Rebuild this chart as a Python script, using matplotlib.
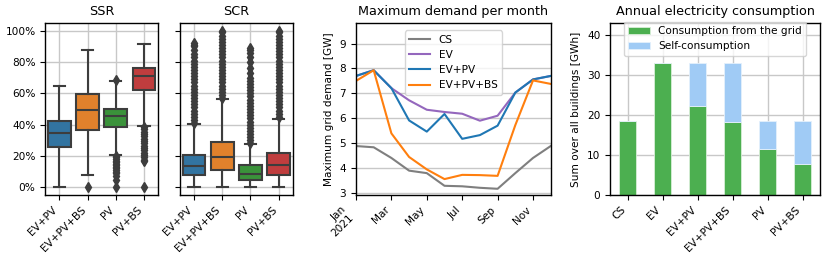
import matplotlib
matplotlib.use("Agg")
import matplotlib.pyplot as plt
from matplotlib.ticker import PercentFormatter

plt.rcParams['font.family'] = ['DejaVu Sans']
plt.rcParams['font.size'] = 7.6
plt.rcParams['axes.linewidth'] = 1.0
TITLE_SIZE = 9.2

# ---------------- data ----------------
box_cats = ["EV+PV", "EV+PV+BS", "PV", "PV+BS"]
box_colors = ["#3274a1", "#e1812c", "#3a923a", "#c03d3e"]

# SSR summary statistics (%): whislo, q1, med, q3, whishi
ssr_whislo = [0.0, 7.8, 20.5, 39.3]
ssr_q1 = [25.8, 36.4, 38.3, 62.0]
ssr_med = [34.9, 49.5, 45.3, 70.8]
ssr_q3 = [42.5, 59.9, 49.9, 76.3]
ssr_whishi = [64.7, 87.5, 67.6, 91.3]
ssr_fliers = [
    [],
    [0.0],
    [68.8, 20.0, 19.0, 18.0, 17.0, 16.0, 15.0, 14.0, 13.0, 12.0, 11.0, 10.0,
     9.0, 7.4, 4.9, 0.0],
    [38.5, 37.0, 35.5, 34.0, 32.5, 31.0, 29.5, 28.0, 26.5, 25.0, 23.5, 22.0,
     20.5, 19.0, 17.5, 16.5, 0.0],
]

# SCR summary statistics (%)
scr_whislo = [0.0, 0.0, 0.0, 0.0]
scr_q1 = [7.6, 11.0, 4.9, 7.6]
scr_med = [13.8, 19.3, 8.7, 14.0]
scr_q3 = [20.7, 29.2, 14.0, 21.8]
scr_whishi = [40.2, 56.4, 27.5, 43.8]
scr_fliers = [
    [41, 43, 45, 47, 49, 51, 53, 55, 57, 59, 61, 63, 65, 67, 69, 71, 73, 75,
     77, 79, 81, 83, 85, 88, 90, 91, 92],
    [57, 59, 61, 63, 65, 67, 69, 71, 73, 75, 77, 79, 81, 83, 85, 87, 89, 91,
     93, 95, 97, 99, 100],
    [28, 30, 32, 34, 36, 38, 40, 42, 44, 46, 48, 50, 52, 54, 56, 58, 60, 62,
     64, 66, 68, 70, 73, 76, 80, 83, 86, 88, 89],
    [45, 47, 49, 51, 53, 55, 57, 59, 61, 63, 65, 67, 69, 71, 73, 75, 77, 79,
     81, 83, 85, 87, 89, 91, 93, 95, 97, 99, 100],
]

months = ["Jan", "Feb", "Mar", "Apr", "May", "Jun", "Jul", "Aug", "Sep",
          "Oct", "Nov", "Dec"]
month_ticklabels = ["Jan\n2021", "Mar", "May", "Jul", "Sep", "Nov"]
demand_cs = [4.88, 4.83, 4.40, 3.89, 3.79, 3.28, 3.26, 3.20, 3.16, 3.79, 4.40, 4.88]
demand_ev = [7.70, 7.93, 7.21, 6.72, 6.34, 6.25, 6.18, 5.90, 6.10, 7.03, 7.56, 7.70]
demand_evpv = [7.70, 7.93, 7.21, 5.91, 5.46, 6.17, 5.17, 5.32, 5.70, 7.03, 7.56, 7.70]
demand_evpvbs = [7.50, 7.93, 5.39, 4.44, 3.94, 3.55, 3.72, 3.71, 3.68, 5.72, 7.52, 7.38]

bar_cats = ["CS", "EV", "EV+PV", "EV+PV+BS", "PV", "PV+BS"]
grid_cons = [18.4, 33.0, 22.3, 18.3, 11.4, 7.8]
self_cons = [0.0, 0.0, 10.7, 14.7, 7.0, 10.6]

# ---------------- figure ----------------
fig = plt.figure(figsize=(8.3, 2.6), dpi=100)
bottom, top = 0.25, 0.9115
ax_ssr = fig.add_axes([0.0546, bottom, 0.1358, top - bottom])
ax_scr = fig.add_axes([0.2169, bottom, 0.1358, top - bottom], sharey=ax_ssr)
ax_dem = fig.add_axes([0.4289, bottom, 0.2346, top - bottom])
ax_bar = fig.add_axes([0.735, bottom, 0.253, top - bottom])

line_gray = "#3d3d3d"
grid_kw = dict(color="#c8c8c8", linewidth=1.0)


def draw_box(ax, whislo, q1, med, q3, whishi, fliers, title):
    stats = []
    for i in range(len(box_cats)):
        stats.append(dict(whislo=whislo[i], q1=q1[i], med=med[i], q3=q3[i],
                          whishi=whishi[i], fliers=fliers[i], label=box_cats[i]))
    bp = ax.bxp(stats, positions=range(len(box_cats)), widths=0.8,
                patch_artist=True, showfliers=True,
                boxprops=dict(edgecolor=line_gray, linewidth=1.5),
                medianprops=dict(color=line_gray, linewidth=1.5),
                whiskerprops=dict(color=line_gray, linewidth=1.5),
                capprops=dict(color=line_gray, linewidth=1.5),
                flierprops=dict(marker='d', markersize=5,
                                markerfacecolor=line_gray,
                                markeredgecolor=line_gray))
    for patch, c in zip(bp['boxes'], box_colors):
        patch.set_facecolor(c)
    ax.set_xlim(-0.5, len(box_cats) - 0.5)
    ax.set_ylim(-5, 105)
    ax.set_xticks(range(len(box_cats)))
    ax.set_xticklabels(box_cats, rotation=45, ha='right')
    ax.grid(True, **grid_kw)
    ax.set_axisbelow(True)
    ax.set_title(title, fontsize=TITLE_SIZE)


draw_box(ax_ssr, ssr_whislo, ssr_q1, ssr_med, ssr_q3, ssr_whishi, ssr_fliers, "SSR")
draw_box(ax_scr, scr_whislo, scr_q1, scr_med, scr_q3, scr_whishi, scr_fliers, "SCR")
ax_ssr.yaxis.set_major_formatter(PercentFormatter(100, decimals=0))
ax_ssr.set_yticks([0, 20, 40, 60, 80, 100])
plt.setp(ax_scr.get_yticklabels(), visible=False)

# ---------------- demand lines ----------------
x = list(range(len(months)))
ax_dem.plot(x, demand_cs, color="tab:gray", label="CS", lw=1.5)
ax_dem.plot(x, demand_ev, color="tab:purple", label="EV", lw=1.5)
ax_dem.plot(x, demand_evpv, color="tab:blue", label="EV+PV", lw=1.5)
ax_dem.plot(x, demand_evpvbs, color="tab:orange", label="EV+PV+BS", lw=1.5)
ax_dem.set_xlim(0, len(months) - 1)
ax_dem.set_ylim(2.91, 9.83)
ax_dem.set_yticks([3, 4, 5, 6, 7, 8, 9])
ax_dem.set_xticks(x[::2])
ax_dem.set_xticklabels(month_ticklabels, rotation=45, ha='right')
ax_dem.grid(True, axis='y', **grid_kw)
ax_dem.set_axisbelow(True)
ax_dem.set_ylabel("Maximum grid demand [GW]")
ax_dem.set_title("Maximum demand per month", fontsize=TITLE_SIZE)
ax_dem.legend(loc="upper center", borderaxespad=0.7)

# ---------------- stacked bars ----------------
xb = list(range(len(bar_cats)))
ax_bar.bar(xb, grid_cons, width=0.5, color="#4caf50",
           edgecolor="#d8eed8", linewidth=0.6, label="Consumption from the grid")
ax_bar.bar(xb, self_cons, width=0.5, bottom=grid_cons, color="#a0cbf5",
           edgecolor="#e4f0fc", linewidth=0.6, label="Self-consumption")
ax_bar.set_xlim(-0.5, len(bar_cats) - 0.5)
ax_bar.set_ylim(0, 43)
ax_bar.set_yticks([0, 10, 20, 30, 40])
ax_bar.set_xticks(xb)
ax_bar.set_xticklabels(bar_cats, rotation=45, ha='right')
ax_bar.grid(True, **grid_kw)
ax_bar.set_axisbelow(True)
ax_bar.set_ylabel("Sum over all buildings [GWh]")
ax_bar.set_title("Annual electricity consumption", fontsize=TITLE_SIZE)
ax_bar.legend(loc="upper center", bbox_to_anchor=(0.5, 1.006), borderaxespad=0)

fig.savefig("out.png", dpi=100)
